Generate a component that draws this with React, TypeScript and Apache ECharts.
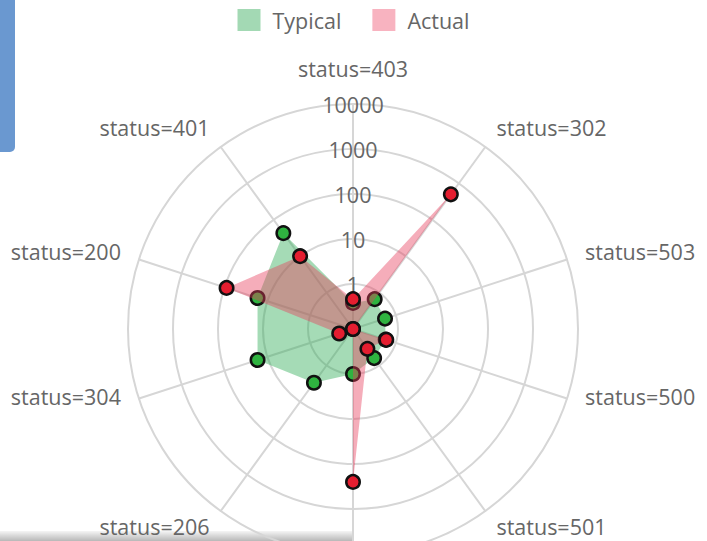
import React, { useEffect, useRef } from "react";
import * as echarts from "echarts";

// Axes in clockwise order starting at the top
const statusCodes = [
  "status=403",
  "status=302",
  "status=503",
  "status=500",
  "status=501",
  "status=404",
  "status=206",
  "status=304",
  "status=200",
  "status=401",
];
const seriesNames = ["Typical", "Actual"];
const typicalValues = [0.38, 0.66, 0.56, 0.58, 0.63, 1, 3, 17, 17, 43];
const actualValues = [0.46, 500, 0.1, 0.6, 0.35, 250, 0.1, 0.21, 90, 10];
const tickValues = [0.1, 1, 10, 100, 1000, 10000];
const tickLabels = ["", "1", "10", "100", "1000", "10000"];

const FONT = "Open Sans";
const FS = 21.5;
const TEXT = "#666666";
const GRID = "#d6d6d6";

// ECharts draws radar indicators counter-clockwise, so reorder: first stays, rest reversed
const ccw = <T,>(arr: T[]): T[] => [arr[0], ...arr.slice(1).reverse()];
const toLog = (v: number) => Math.log10(v);

export default function App() {
  const ref = useRef<HTMLDivElement>(null);
  useEffect(() => {
    if (!ref.current) return;
    const chart = echarts.init(ref.current, undefined, { renderer: "svg" });
    const minLog = toLog(tickValues[0]);
    const maxLog = toLog(tickValues[tickValues.length - 1]);
    const labelFor = (v: number) => {
      const idx = tickValues.findIndex((t) => Math.abs(toLog(t) - v) < 1e-6);
      return idx >= 0 ? tickLabels[idx] : "";
    };
    // nudge axis names up a little, as in the reference
    const lift: Record<string, string> = {
      [statusCodes[0]]: "t",
      [statusCodes[1]]: "u",
      [statusCodes[9]]: "u",
      [statusCodes[2]]: "m",
      [statusCodes[8]]: "m",
      [statusCodes[3]]: "l",
      [statusCodes[7]]: "l",
    };
    const cwIndicators = statusCodes.map((name, i) => ({
      name,
      min: minLog,
      max: maxLog,
      ...(i === 0 ? { axisLabel: { show: true } } : {}),
    }));
    const indicators = ccw(cwIndicators);
    const mkSeries = (name: string, values: number[], point: string, fill: string, z: number) => ({
      type: "radar",
      name,
      z,
      symbol: "circle",
      symbolSize: 13.5,
      itemStyle: { color: point, borderColor: "#111", borderWidth: 2.5 },
      lineStyle: { width: 0 },
      areaStyle: { color: fill, opacity: 1 },
      data: [{ name, value: ccw(values).map(toLog) }],
    });
    chart.setOption({
      animation: false,
      textStyle: { fontFamily: FONT },
      graphic: [
        {
          type: "rect",
          left: 0,
          top: 0,
          shape: { x: 0, y: 0, width: 15, height: 152, r: [0, 0, 5, 0] },
          style: { fill: "#6a98d0" },
          silent: true,
        },
        {
          type: "rect",
          shape: { x: 0, y: 531, width: 352, height: 10 },
          style: {
            fill: new echarts.graphic.LinearGradient(0, 0, 0, 1, [
              { offset: 0, color: "rgba(0,0,0,0.04)" },
              { offset: 1, color: "rgba(0,0,0,0.28)" },
            ]),
          },
          silent: true,
        },
      ],
      legend: {
        top: 4,
        left: "center",
        icon: "rect",
        itemWidth: 23,
        itemHeight: 22,
        itemGap: 31,
        textStyle: { fontSize: FS, color: TEXT, fontFamily: FONT, padding: [0, 0, 0, 7] },
        data: [
          { name: seriesNames[0], itemStyle: { color: "#a3d9b4", borderWidth: 0 } },
          { name: seriesNames[1], itemStyle: { color: "#f8b3c0", borderWidth: 0 } },
        ],
      },
      radar: {
        center: [353, 329],
        radius: 225,
        shape: "circle",
        splitNumber: 5,
        indicator: indicators,
        nameGap: 19,
        axisName: {
          color: TEXT,
          fontSize: FS,
          fontFamily: FONT,
          formatter: (name: string) => {
            if (name === statusCodes[5]) return "";
            const k = lift[name];
            return k ? `{n|${name}}\n{${k}| }` : name;
          },
          rich: {
            n: { color: TEXT, fontSize: FS, fontFamily: FONT, lineHeight: 28 },
            t: { fontSize: 2, lineHeight: 3 },
            u: { fontSize: 2, lineHeight: 9 },
            m: { fontSize: 2, lineHeight: 4 },
            l: { fontSize: 2, lineHeight: 15 },
          },
        },
        splitLine: { lineStyle: { color: GRID, width: 2 } },
        splitArea: { show: false },
        axisLine: { lineStyle: { color: GRID, width: 2 } },
        axisTick: { show: false },
        axisLabel: {
          show: false,
          color: TEXT,
          fontSize: FS,
          fontFamily: FONT,
          margin: 0,
          align: "center",
          verticalAlign: "middle",
          formatter: (v: number) => labelFor(v),
        },
      },
      series: [
        mkSeries(seriesNames[0], typicalValues, "#2fb340", "rgba(40,170,80,0.42)", 2),
        mkSeries(seriesNames[1], actualValues, "#e41e30", "rgba(230,60,90,0.42)", 3),
      ],
    });
    return () => chart.dispose();
  }, []);
  return (
    <div
      ref={ref}
      style={{ position: "absolute", left: 0, top: 0, width: 707, height: 541 }}
    />
  );
}
